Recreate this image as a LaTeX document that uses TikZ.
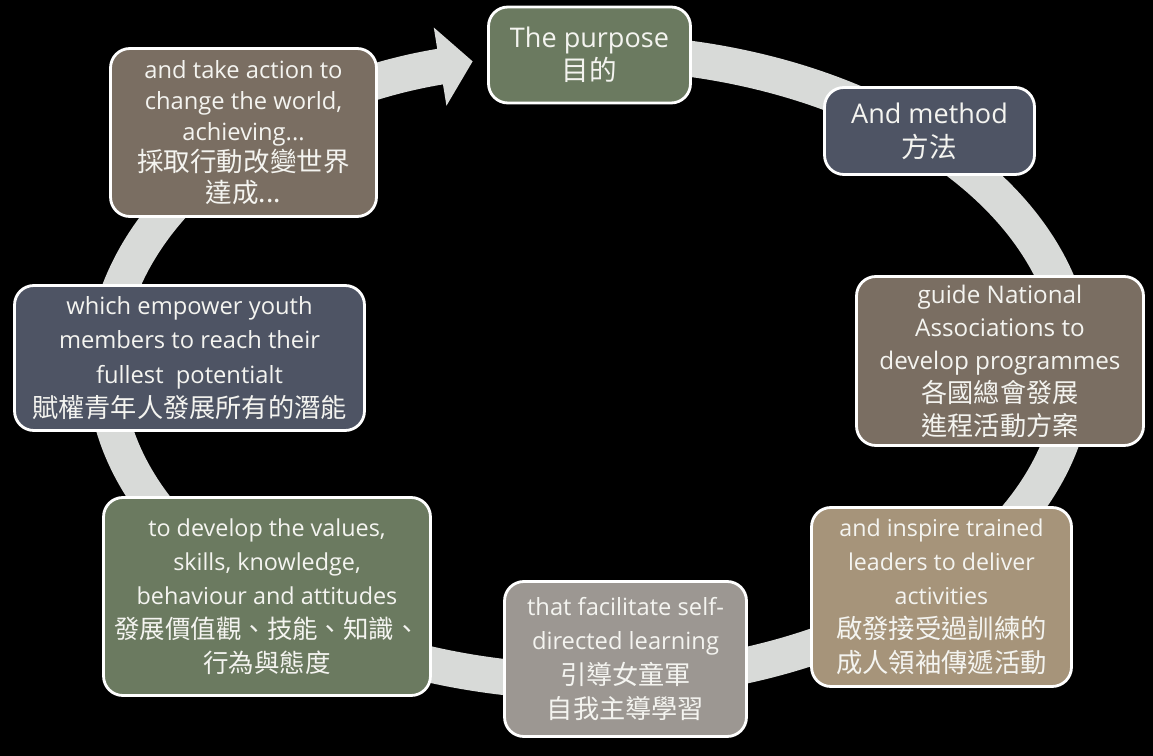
\documentclass[tikz,border=0pt]{standalone}
\usepackage{fontspec}
\setmainfont{Open Sans}
\newfontfamily\cjk{Noto Sans CJK TC}
\usetikzlibrary{arrows.meta}

\definecolor{sage}{HTML}{6B7A60}
\definecolor{slate}{HTML}{4E5464}
\definecolor{taupe}{HTML}{7A6E62}
\definecolor{sand}{HTML}{A6947A}
\definecolor{stone}{HTML}{9C9792}
\definecolor{ringgray}{HTML}{D8DAD8}
\definecolor{txt}{HTML}{F4F4F0}

% Chinese line, own size, keeps the box's line spacing
\newcommand{\zh}[2][15]{{\cjk\fontsize{#1pt}{\baselineskip}\selectfont #2}}

\begin{document}
\begin{tikzpicture}[x=0.02cm, y=-0.02cm,
        box/.style={rectangle, draw=white, line width=1.6pt, rounded corners=11pt,
                    text=txt, align=center, inner sep=0pt},
        band/.style={draw=ringgray, line width=0.72cm,
                     -{Triangle[length=0.66cm, width=1.55cm]}}]
      \fill[black] (0,0) rectangle (1153,756);
      \useasboundingbox (0,0) rectangle (1153,756);
      \coordinate (hub) at (590,367);
      \draw[band] (hub) ++(-85:485 and 315) arc[start angle=-85, end angle=256, x radius=485, y radius=315];

      \node[box, fill=sage, minimum width=4.04cm, minimum height=1.92cm,
            font=\fontsize{15.4pt}{18.8pt}\selectfont] (purpose) at (589.5,55)
            {The purpose\\ \zh[15.7]{目的}};
      \node[box, fill=slate, minimum width=4.2cm, minimum height=1.74cm,
            font=\fontsize{15.4pt}{19.3pt}\selectfont] (method) at (929.5,131)
            {And method\\ \zh[15.7]{方法}};
      \node[box, fill=taupe, minimum width=5.74cm, minimum height=3.38cm,
            font=\fontsize{13.8pt}{18.8pt}\selectfont] (guide) at (1000,361)
            {guide National\\ Associations to\\ develop programmes\\ \zh[14.9]{各國總會發展}\\ \zh[14.9]{進程活動方案}};
      \node[box, fill=sand, minimum width=5.2cm, minimum height=3.58cm,
            font=\fontsize{13.2pt}{19.4pt}\selectfont] (inspire) at (941.5,597)
            {and inspire trained\\ leaders to deliver\\ activities\\ \zh[15]{啟發接受過訓練的}\\ \zh[15]{成人領袖傳遞活動}};
      \node[box, fill=stone, minimum width=4.84cm, minimum height=3.1cm,
            font=\fontsize{13.5pt}{19.4pt}\selectfont] (facilitate) at (625.5,659)
            {that facilitate self-\\ directed learning\\ \zh[14.9]{引導女童軍}\\ \zh[14.9]{自我主導學習}};
      \node[box, fill=sage, minimum width=6.54cm, minimum height=3.96cm,
            font=\fontsize{13.3pt}{19.4pt}\selectfont] (develop) at (267,596.5)
            {to develop the values,\\ skills, knowledge,\\ behaviour and attitudes\\ \zh[14.5]{發展價值觀、技能、知識、}\\ \zh[14.5]{行為與態度}};
      \node[box, fill=slate, minimum width=7cm, minimum height=2.9cm,
            font=\fontsize{13.5pt}{19.6pt}\selectfont] (empower) at (189.5,358)
            {which empower youth\\ members to reach their\\ fullest\ \ potentialt\\ \zh[14.9]{賦權青年人發展所有的潛能}};
      \node[box, fill=taupe, minimum width=5.32cm, minimum height=3.36cm,
            font=\fontsize{13.5pt}{17.6pt}\selectfont] (action) at (243.5,132.5)
            {and take action to\\ change the world,\\ achieving...\\ \zh[15.1]{採取行動改變世界}\\ \zh[15.1]{達成...}};
    \end{tikzpicture}
\end{document}
